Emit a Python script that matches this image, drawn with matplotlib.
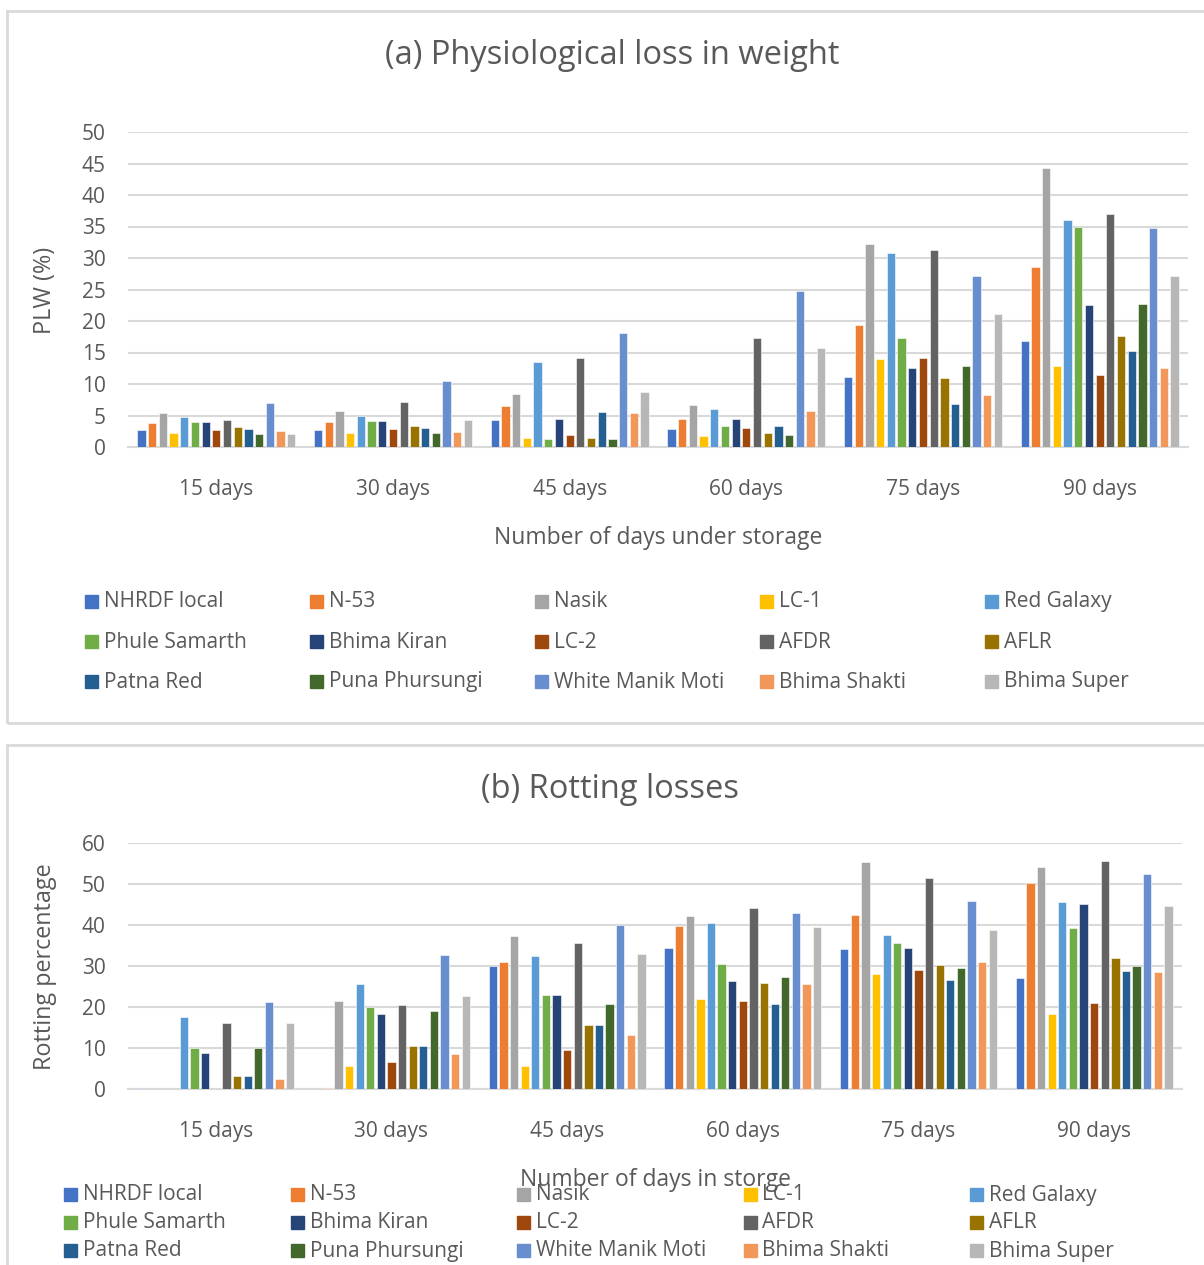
import matplotlib
matplotlib.use("Agg")
from matplotlib import pyplot as plt
import matplotlib.patches as mpatches
import numpy as np

plt.rcParams['font.family'] = ['Open Sans', 'DejaVu Sans']

days = ["15 days", "30 days", "45 days", "60 days", "75 days", "90 days"]
varieties = ["NHRDF local", "N-53", "Nasik", "LC-1", "Red Galaxy",
             "Phule Samarth", "Bhima Kiran", "LC-2", "AFDR", "AFLR",
             "Patna Red", "Puna Phursungi", "White Manik Moti", "Bhima Shakti", "Bhima Super"]
colors = ["#4472C4", "#ED7D31", "#A5A5A5", "#FFC000", "#5B9BD5",
          "#70AD47", "#264478", "#9E480E", "#636363", "#997300",
          "#255E91", "#43682B", "#698ED0", "#F1975A", "#B7B7B7"]

# PLW (%) per variety, one value per storage period
plw = {
    "NHRDF local":      [2.65, 2.7, 4.3, 2.9, 11.1, 16.9],
    "N-53":             [3.8, 4.0, 6.5, 4.5, 19.3, 28.6],
    "Nasik":            [5.4, 5.7, 8.4, 6.6, 32.2, 44.3],
    "LC-1":             [2.2, 2.2, 1.5, 1.75, 14.0, 12.8],
    "Red Galaxy":       [4.7, 5.0, 13.5, 6.0, 30.8, 36.0],
    "Phule Samarth":    [3.9, 4.15, 1.2, 3.3, 17.3, 34.9],
    "Bhima Kiran":      [3.9, 4.15, 4.4, 4.5, 12.5, 22.5],
    "LC-2":             [2.7, 2.9, 1.9, 3.0, 14.1, 11.4],
    "AFDR":             [4.3, 7.2, 14.2, 17.3, 31.3, 37.0],
    "AFLR":             [3.2, 3.3, 1.5, 2.3, 10.9, 17.6],
    "Patna Red":        [2.9, 3.0, 5.5, 3.3, 6.8, 15.2],
    "Puna Phursungi":   [2.1, 2.2, 1.2, 1.85, 12.8, 22.7],
    "White Manik Moti": [7.0, 10.5, 18.1, 24.8, 27.2, 34.7],
    "Bhima Shakti":     [2.55, 2.4, 5.4, 5.7, 8.2, 12.6],
    "Bhima Super":      [2.1, 4.25, 8.7, 15.7, 21.1, 27.2],
}

# Rotting percentage per variety
rot = {
    "NHRDF local":      [0.2, 0.0, 30.0, 34.4, 34.2, 27.1],
    "N-53":             [0.0, 0.3, 31.0, 39.7, 42.5, 50.3],
    "Nasik":            [0.0, 21.5, 37.3, 42.1, 55.3, 54.1],
    "LC-1":             [0.0, 5.7, 5.6, 22.0, 28.1, 18.3],
    "Red Galaxy":       [17.6, 25.5, 32.5, 40.6, 37.5, 45.6],
    "Phule Samarth":    [9.9, 20.0, 23.0, 30.4, 35.7, 39.2],
    "Bhima Kiran":      [8.9, 18.3, 23.0, 26.4, 34.5, 45.1],
    "LC-2":             [0.0, 6.7, 9.6, 21.5, 29.1, 21.0],
    "AFDR":             [16.2, 20.6, 35.5, 44.1, 51.4, 55.5],
    "AFLR":             [3.2, 10.4, 15.7, 25.9, 30.3, 31.9],
    "Patna Red":        [3.2, 10.4, 15.7, 20.8, 26.6, 28.8],
    "Puna Phursungi":   [9.9, 19.1, 20.8, 27.2, 29.6, 30.0],
    "White Manik Moti": [21.3, 32.6, 40.0, 43.0, 45.9, 52.5],
    "Bhima Shakti":     [2.4, 8.5, 13.2, 25.6, 30.9, 28.5],
    "Bhima Super":      [16.2, 22.6, 32.9, 39.5, 38.7, 44.6],
}

W, H = 1204, 1265
TXT = "#595959"
GRID = "#D9D9D9"

fig = plt.figure(figsize=(W / 100, H / 100), dpi=100)

def px_axes(l, t, r, b):
    return fig.add_axes([l / W, 1 - b / H, (r - l) / W, (b - t) / H])

# chart borders
fig.patches.append(mpatches.Rectangle((7 / W, 1 - 723 / H), 1.1, (723 - 11) / H,
                                      transform=fig.transFigure, fill=False, ec=GRID, lw=2))
fig.patches.append(mpatches.Rectangle((7 / W, -0.1), 1.1, 0.1 + (1265 - 745) / H,
                                      transform=fig.transFigure, fill=False, ec=GRID, lw=2))

def draw_panel(ax, data, ymax, step):
    x = np.arange(len(days))
    slot = 0.0604
    for i, name in enumerate(varieties):
        off = (i - 7) * slot
        ax.bar(x + off, data[name], width=slot * 0.78, color=colors[i],
               edgecolor="white", linewidth=0.4, zorder=3)
    ax.set_xlim(-0.5, len(days) - 0.5)
    ax.set_ylim(0, ymax)
    ax.set_yticks(np.arange(0, ymax + 1, step))
    ax.set_xticks(x)
    ax.set_xticklabels(days)
    ax.grid(axis="y", color=GRID, lw=1.5, zorder=0)
    for s in ["top", "right", "left"]:
        ax.spines[s].set_visible(False)
    ax.spines["bottom"].set_color(GRID)
    ax.spines["bottom"].set_linewidth(1.5)
    ax.tick_params(axis="both", length=0, labelsize=15, labelcolor=TXT)
    ax.tick_params(axis="y", pad=16)
    ax.tick_params(axis="x", pad=23)

def draw_legend(x0, dx, rows_y, size):
    for i, name in enumerate(varieties):
        r, c = divmod(i, 5)
        xl = x0 + c * dx
        yc = rows_y[r]
        fig.patches.append(mpatches.Rectangle((xl / W, 1 - (yc + 6) / H), 13 / W, 13 / H,
                                              transform=fig.transFigure, color=colors[i]))
        fig.text((xl + 19) / W, 1 - yc / H, name, fontsize=size, color=TXT, va="center", ha="left")

# (a) Physiological loss in weight
axa = px_axes(128, 132, 1188, 447)
draw_panel(axa, plw, 50, 5)
fig.text(612 / W, 1 - 55 / H, "(a) Physiological loss in weight", fontsize=23.5, color=TXT, ha="center", va="center")
fig.text(658 / W, 1 - 538 / H, "Number of days under storage", fontsize=16.5, color=TXT, ha="center", va="center")
fig.text(45 / W, 1 - 290 / H, "PLW (%)", fontsize=16.8, color=TXT, ha="center", va="center", rotation=90)
draw_legend(85, 225, [602, 642, 682], 15)

# (b) Rotting losses
axb = px_axes(128, 843, 1182, 1089)
draw_panel(axb, rot, 60, 10)
fig.text(610 / W, 1 - 790 / H, "(b) Rotting losses", fontsize=23.5, color=TXT, ha="center", va="center")
fig.text(45 / W, 1 - 967 / H, "Rotting percentage", fontsize=16.8, color=TXT, ha="center", va="center", rotation=90)
draw_legend(64, 226.5, [1195, 1223, 1251], 15)
fig.text(655 / W, 1 - 1180 / H, "Number of days in storge", fontsize=16.5, color=TXT, ha="center", va="center")

fig.savefig("out.png", dpi=100, facecolor="white")
